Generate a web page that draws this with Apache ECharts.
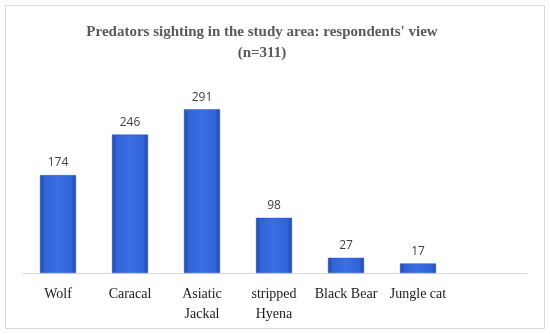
<!DOCTYPE html>
<html><head><meta charset="utf-8">
<script src="https://cdn.jsdelivr.net/npm/echarts@6/dist/echarts.min.js"></script>
<style>html,body{margin:0;padding:0;background:#fff}#c{width:550px;height:334px}</style>
</head><body><div id="c"></div>
<script>
const categories = ['Wolf', 'Caracal', 'Asiatic\nJackal', 'stripped\nHyena', 'Black Bear', 'Jungle cat', ''];
const values = [174, 246, 291, 98, 27, 17, null];
const titleText = "Predators sighting in the study area: respondents' view\n(n=311)";

const chart = echarts.init(document.getElementById('c'));
chart.setOption({
  animation: false,
  graphic: [{type: 'rect', shape: {x: 5.5, y: 5.5, width: 539, height: 323}, style: {fill: 'none', stroke: '#d9d9d9', lineWidth: 1}}],
  title: {
    text: titleText, left: 257, top: 17, textAlign: 'center',
    textStyle: {fontFamily: 'Liberation Serif', fontWeight: 'bold', fontSize: 15, color: '#595959', lineHeight: 21}
  },
  grid: {left: 22, right: 24, top: 76, bottom: 61, containLabel: false},
  xAxis: {
    type: 'category', data: categories,
    axisLine: {lineStyle: {color: '#d9d9d9', width: 1}},
    axisTick: {show: false},
    axisLabel: {interval: 0, fontFamily: 'Liberation Serif', fontSize: 14, color: '#1a1a1a', margin: 11, lineHeight: 20}
  },
  yAxis: {type: 'value', min: 0, max: 350, show: false, splitLine: {show: false}},
  series: [{
    type: 'bar', data: values, barWidth: 36,
    itemStyle: {
      color: new echarts.graphic.LinearGradient(0, 0, 1, 0, [
        {offset: 0, color: '#1d46a6'}, {offset: 0.12, color: '#2f62d6'},
        {offset: 0.5, color: '#3a6fe3'}, {offset: 0.88, color: '#2f62d6'}, {offset: 1, color: '#1d46a6'}
      ]),
      borderColor: '#2a55bd', borderWidth: 0.5
    },
    label: {show: true, position: 'top', distance: 6, fontFamily: 'Open Sans', fontSize: 12, color: '#404040'}
  }]
});
</script></body></html>
